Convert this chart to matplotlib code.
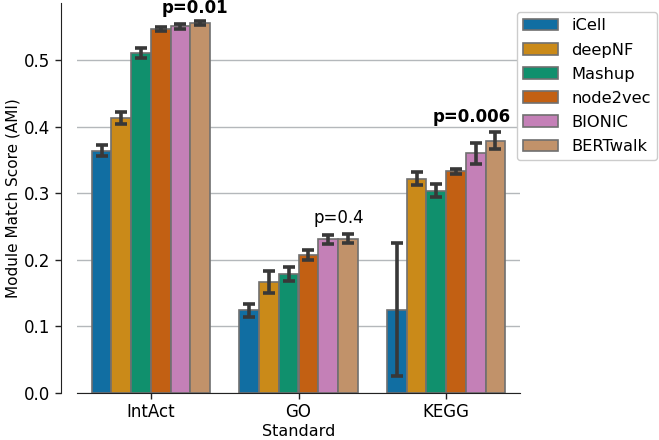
import matplotlib
matplotlib.use("Agg")
import matplotlib.pyplot as plt
import numpy as np
import seaborn as sns

standards = ["IntAct", "GO", "KEGG"]
methods = ["iCell", "deepNF", "Mashup", "node2vec", "BIONIC", "BERTwalk"]

# mean values per method (IntAct, GO, KEGG)
means = {
    "iCell":    [0.364, 0.124, 0.125],
    "deepNF":   [0.413, 0.167, 0.322],
    "Mashup":   [0.511, 0.179, 0.304],
    "node2vec": [0.547, 0.208, 0.333],
    "BIONIC":   [0.551, 0.231, 0.360],
    "BERTwalk": [0.556, 0.232, 0.379],
}
errs = {
    "iCell":    [0.008, 0.010, 0.100],
    "deepNF":   [0.009, 0.016, 0.010],
    "Mashup":   [0.008, 0.011, 0.010],
    "node2vec": [0.003, 0.0075, 0.004],
    "BIONIC":   [0.004, 0.007, 0.016],
    "BERTwalk": [0.003, 0.007, 0.013],
}
pvals = ["p=0.01", "p=0.4", "p=0.006"]
pbold = [True, False, True]

colors = sns.color_palette("colorblind", desat=0.82)[:6]

plt.rcParams["font.family"] = ["DejaVu Sans"]
fig = plt.figure(figsize=(6.59, 4.40), dpi=100)
ax = fig.add_axes([77/659, 1-393/440, 443/659, 390/440])

x = np.arange(len(standards))
n = len(methods)
total = 0.8
w = total / n
for i, m in enumerate(methods):
    pos = x - total/2 + w*(i+0.5)
    ax.bar(pos, means[m], width=w, color=colors[i], edgecolor="#707070",
           linewidth=1.2, label=m, zorder=2)
    ax.errorbar(pos, means[m], yerr=errs[m], fmt="none", ecolor="#383838",
                elinewidth=2.6, capsize=4, capthick=2.6, zorder=3)

# p-value annotations (text centers)
pxs = [0.298, 1.27, 2.176]
pys = [0.579, 0.263, 0.415]
for xi, yi, t, b in zip(pxs, pys, pvals, pbold):
    ax.text(xi, yi, t, ha="center", va="center", fontsize=12,
            fontweight="bold" if b else "normal", color="black", zorder=4)

ax.set_xlim(-0.5, 2.5)
ax.set_ylim(0, 0.586)
ax.set_yticks([0.0, 0.1, 0.2, 0.3, 0.4, 0.5])
ax.set_yticklabels(["0.0", "0.1", "0.2", "0.3", "0.4", "0.5"])
ax.set_xticks(x)
ax.set_xticklabels(standards)
ax.tick_params(labelsize=12, length=4, width=1.0, color="#222222")
ax.yaxis.grid(True, color="#b4b8bb", linewidth=1.0, zorder=0)
ax.set_axisbelow(True)
ax.spines["top"].set_visible(False)
ax.spines["right"].set_visible(False)
ax.spines["left"].set_position(("outward", 11.5))
ax.spines["left"].set_color("#222222")
ax.spines["bottom"].set_color("#222222")
ax.set_ylabel("Module Match Score (AMI)", fontsize=11, labelpad=3)
ax.set_xlabel("Standard", fontsize=11.5, labelpad=2)

leg = ax.legend(loc="upper left", bbox_to_anchor=(0.993, 0.977), borderaxespad=0,
                fontsize=11.7, handlelength=2.1, handleheight=0.7, frameon=True,
                fancybox=True, edgecolor="#cccccc", framealpha=1.0,
                labelspacing=0.56, borderpad=0.4, handletextpad=0.85)

fig.savefig("out.png", dpi=100)
